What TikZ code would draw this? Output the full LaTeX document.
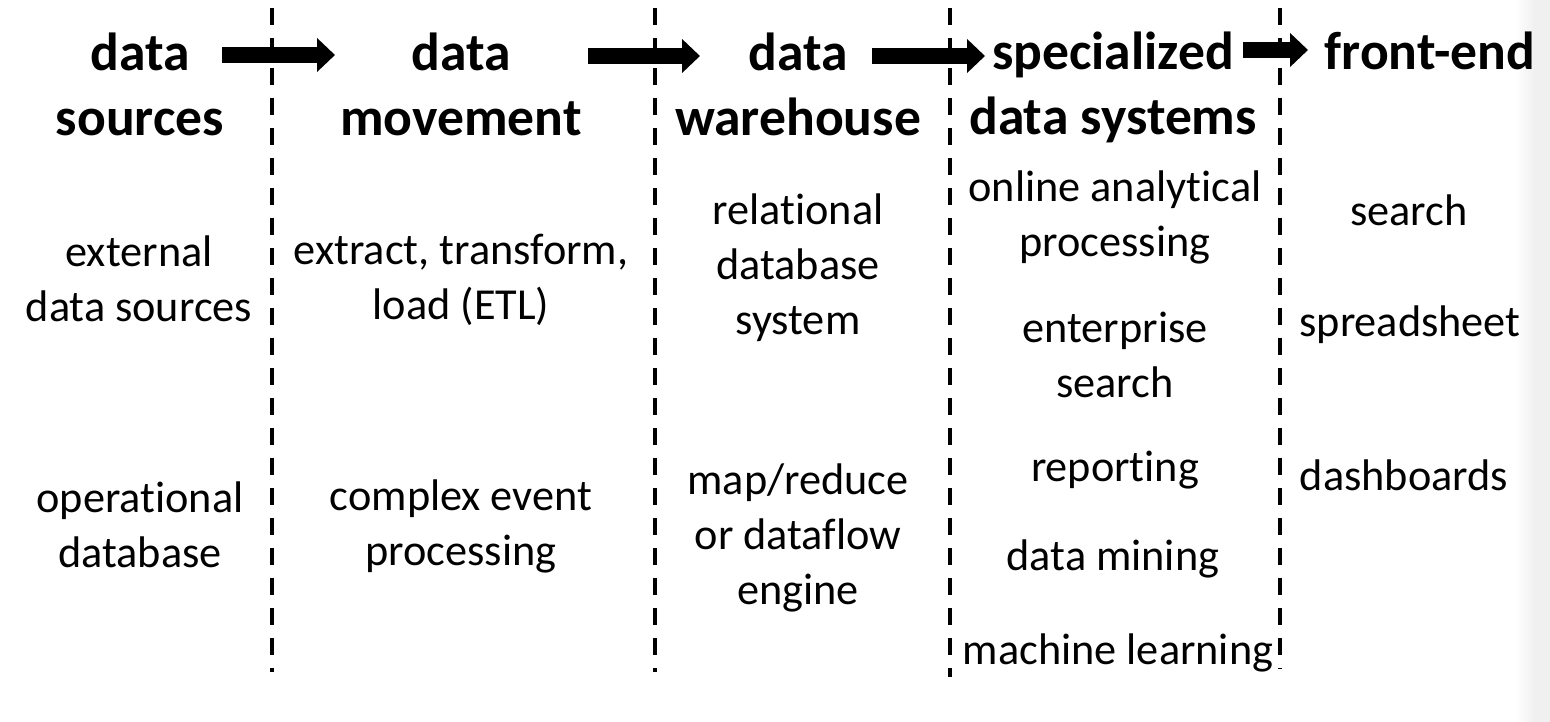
\documentclass[tikz,border=0pt]{standalone}
\usepackage{fontspec}
\setmainfont{Carlito}[Ligatures=NoCommon]
\usetikzlibrary{arrows.meta,positioning}

\begin{document}
\begin{tikzpicture}
[x=0.02cm,y=-0.02cm,
 head/.style={font=\fontsize{30.5}{37}\selectfont\bfseries,align=center,inner sep=0pt},
 item/.style={font=\fontsize{25.2}{31.3}\selectfont,align=center,inner sep=0pt},
 sep/.style={line width=0.08cm,dash pattern=on 0.34cm off 0.26cm},
 flow/.style={line width=0.32cm,-{Triangle[length=0.36cm,width=0.66cm]}}]
\useasboundingbox (0,0) rectangle (1550,722);
\shade[left color=white,right color=black!6] (1515,0) rectangle (1535,722);
\fill[black!6] (1535,0) rectangle (1550,722);
% headers
\node[head] (h1) at (140,84) {data\\sources};
\node[head] (h2) at (461,84) {data\\movement};
\node[head] (h3) at (798,84) {data\\warehouse};
\node[head] (h4) at (1113,87) {specialized\\data systems};
\node[head] (h5) at (1430,51) {front-end};
% columns
\node[item] (s1) at (139,279) {external\\data sources};
\node[item] (s2) at (140,525) {operational\\database};
\node[item] (m1) at (461,280) {extract, transform,\\load (ETL)};
\node[item] (m2) at (461,526) {complex event\\processing};
\node[item] (w1) at (798,268) {relational\\database\\system};
\node[item] (w2) at (798,538) {map/reduce\\or dataflow\\engine};
\node[item] (d1) at (1115,217) {online analytical\\processing};
\node[item] (d2) at (1115,355) {enterprise\\search};
\node[item] (d3) at (1115,470) {reporting};
\node[item] (d4) at (1113,559) {data mining};
\node[item] (d5) at (1118,653) {machine learning};
\node[item] (f1) at (1409,210) {search};
\node[item] (f2) at (1410,325) {spreadsheet};
\node[item] (f3) at (1404,475) {dashboards};
% separators
\foreach \i/\x/\b in {1/272/672,2/655/672,3/950/677,4/1280/668}{
  \coordinate (top\i) at (\x,8);
  \coordinate (bot\i) at (\x,\b);
  \draw[sep] (top\i) -- (bot\i);
}
% arrows
\coordinate (a1s) at (222,55); \coordinate (a1e) at (335,55);
\coordinate (a2s) at (588,56); \coordinate (a2e) at (700,56);
\coordinate (a3s) at (872,56); \coordinate (a3e) at (985,56);
\coordinate (a4s) at (1243,50); \coordinate (a4e) at (1308,50);
\draw[flow] (a1s) -- (a1e);
\draw[flow] (a2s) -- (a2e);
\draw[flow] (a3s) -- (a3e);
\draw[flow] (a4s) -- (a4e);
\end{tikzpicture}
\end{document}
